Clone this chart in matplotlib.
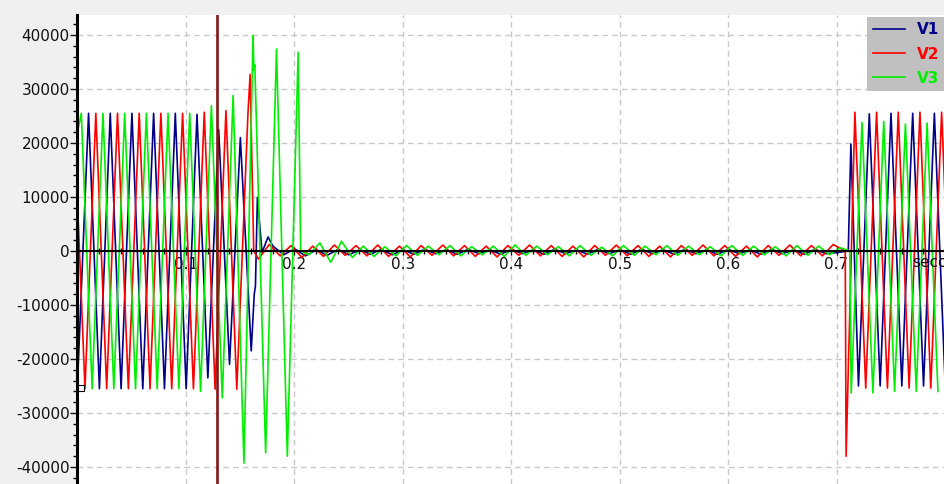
import numpy as np
import matplotlib
matplotlib.use('Agg')
import matplotlib.pyplot as plt
from matplotlib.ticker import MultipleLocator

plt.rcParams['font.family'] = 'DejaVu Sans'
plt.rcParams['axes.unicode_minus'] = False

# 50 Hz system: one extremum every half cycle (10 ms)
HALF_CYCLE = 0.01

# V1: time of first peak, then peak/trough values half cycle by half cycle
v1_t0 = 0.0102
v1_peaks = [25500, -25500, 25500, -25500, 25500, -25500, 25500, -25500, 25500, -25500,
            25300, -23500, 22500, -21000, 21000, -18500,
            -300, 900, -700, 400, -900, 200, -800, 300, -700, 200,
            -600, 300, -700, 200, -600, 300, -500, 200, -600, 300,
            -500, 200, -600, 300, -500, 200, -600, 300, -500, 200,
            -600, 300, -500, 200, -600, 300, -500, 200, -600, 300,
            -500, 200, -600, 300, -500, 200, -600, 300, -500, 200,
            -600, 300, -500, -300,
            None, -25000, 25400, -25000, 25500, -25000, 25500, -25000, 25500, -25000]
# points off the half-cycle grid (start of record, fault ringing, reclose)
v1_extra_t = [0.0, 0.1630, 0.1641, 0.1659, 0.1757, 0.7108, 0.7132]
v1_extra_v = [-24500, -8000, -6500, 9900, 2600, 0, 19800]

v2_t0 = 0.0169
v2_peaks = [25500, -25500, 25500, -25500, 25500, -25500, 25500, -25500, 25500, -25500,
            25700, -25600, 26000, -25600, None, -1500,
            1200, -900, 1000, -1200, 900, -1000, 1100, -800, 1000, -900,
            1100, -1000, 900, -1100, 1000, -800, 1100, -900, 1000, -1000,
            900, -1100, 1000, -800, 1100, -900, 1000, -1000, 900, -1100,
            1000, -800, 1100, -900, 1000, -1000, 900, -1100, 1000, -800,
            1100, -900, 1000, -1000, 900, -1100, 1000, -800, 1100, -900,
            1000, -900, 1200,
            None, 25700, -25400, 25700, -25400, 25700, -25400, 25700, -25400, 25700, -25400]
v2_extra_t = [0.0, 0.0069, 0.1572, 0.1592, 0.1625, 0.7080, 0.7088]
v2_extra_v = [9000, -25500, 25500, 32700, 0, 0, -38000]

v3_t0 = 0.0035
v3_peaks = [25500, -25500, 25500, -25500, 25500, -25500, 25500, -25500, 25500, -25500, 25500,
            -26000, 26900, -27200, 28800, -39300, 34500, -37400, 37400, -38000, 36800,
            -700, 1500, -2100, 1800, -1200, 900, -1000, 800, -900, 1000,
            -800, 900, -700, 1000, -900, 800, -700, 900, -1000, 1100,
            -800, 900, -700, 800, -900, 1000, -800, 700, -900, 1000,
            -800, 900, -700, 1000, -800, 900, -700, 800, -900, 1000,
            -800, 900, -700, 800, -900, 1000, -800, 900, -700, 600,
            -26300, 23800, -26300, 24000, -26000, 23500, -26000, 23700, -26000]
v3_extra_t = [0.0, 0.1619, 0.1627, 0.2058, 0.7122]
v3_extra_v = [22000, 39900, 33500, 0, 0]

assert len(v1_peaks) == len(v2_peaks) == len(v3_peaks) == 80

breaker_t = 0.129
xtick_vals = [0.1, 0.2, 0.3, 0.4, 0.5, 0.6, 0.7]


def phase_series(t0, peaks, extra_t, extra_v):
    t = t0 + HALF_CYCLE * np.arange(len(peaks))
    v = np.array([np.nan if p is None else p for p in peaks], dtype=float)
    keep = ~np.isnan(v)
    t = np.concatenate([t[keep], extra_t])
    v = np.concatenate([v[keep], extra_v])
    order = np.argsort(t)
    return t[order], v[order]


fig = plt.figure(figsize=(9.45, 4.84), dpi=100, facecolor='#f0f0f0')
ax = fig.add_axes([77.5 / 945, 0, 867.5 / 945, 469 / 484])
ax.set_facecolor('white')

t1, y1 = phase_series(v1_t0, v1_peaks, v1_extra_t, v1_extra_v)
t2, y2 = phase_series(v2_t0, v2_peaks, v2_extra_t, v2_extra_v)
t3, y3 = phase_series(v3_t0, v3_peaks, v3_extra_t, v3_extra_v)

ax.plot(t1, y1, color='#000088', lw=1.2, label='V1')
ax.plot(t2, y2, color='#ff0000', lw=1.2, label='V2')
ax.plot(t3, y3, color='#00ee00', lw=1.2, label='V3')

# breaker operation cursor
ax.axvline(breaker_t, color='#851515', lw=1.9, zorder=3)
# start-of-record marker
ax.plot([0.0036], [-25460], marker='s', ms=4, mfc='white', mec='black', mew=0.8,
        clip_on=False, zorder=4)

ax.set_xlim(0, 0.8)
ax.set_ylim(-43150, 43700)

for side in ['top', 'right']:
    ax.spines[side].set_visible(False)
ax.spines['left'].set_linewidth(2.2)
ax.spines['bottom'].set_position(('data', 0))
ax.spines['bottom'].set_linewidth(1.5)

ax.set_xticks(xtick_vals)
ax.set_xticklabels([str(v) for v in xtick_vals])
ax.xaxis.set_minor_locator(MultipleLocator(0.02))
ax.yaxis.set_major_locator(MultipleLocator(10000))
ax.yaxis.set_minor_locator(MultipleLocator(2000))
ax.tick_params(axis='x', which='major', direction='inout', length=6, width=1, pad=1,
               labelsize=11, colors='#111111')
ax.tick_params(axis='x', which='minor', direction='inout', length=5, width=1)
ax.tick_params(axis='y', which='major', direction='out', length=5, width=1, pad=0.5,
               labelsize=11, colors='#111111')
ax.tick_params(axis='y', which='minor', direction='out', length=3, width=1)

ax.grid(True, which='major', color='#c8c8c8', linestyle=(0, (4, 3)), lw=1)
ax.set_axisbelow(True)

ax.text(0.7697, -2200, 'seconds', fontsize=11, va='center', ha='left', color='#111111')

leg = ax.legend(loc='upper right', bbox_to_anchor=(1.0, 1 - 2 / 469), frameon=True,
                facecolor='#c0c0c0', edgecolor='none', framealpha=1, fancybox=False,
                labelcolor='linecolor', prop={'weight': 'bold', 'size': 11},
                handlelength=2.1, handletextpad=0.8, labelspacing=0.6,
                borderpad=0.35, borderaxespad=0)

fig.savefig('out.png', dpi=100, facecolor=fig.get_facecolor())
